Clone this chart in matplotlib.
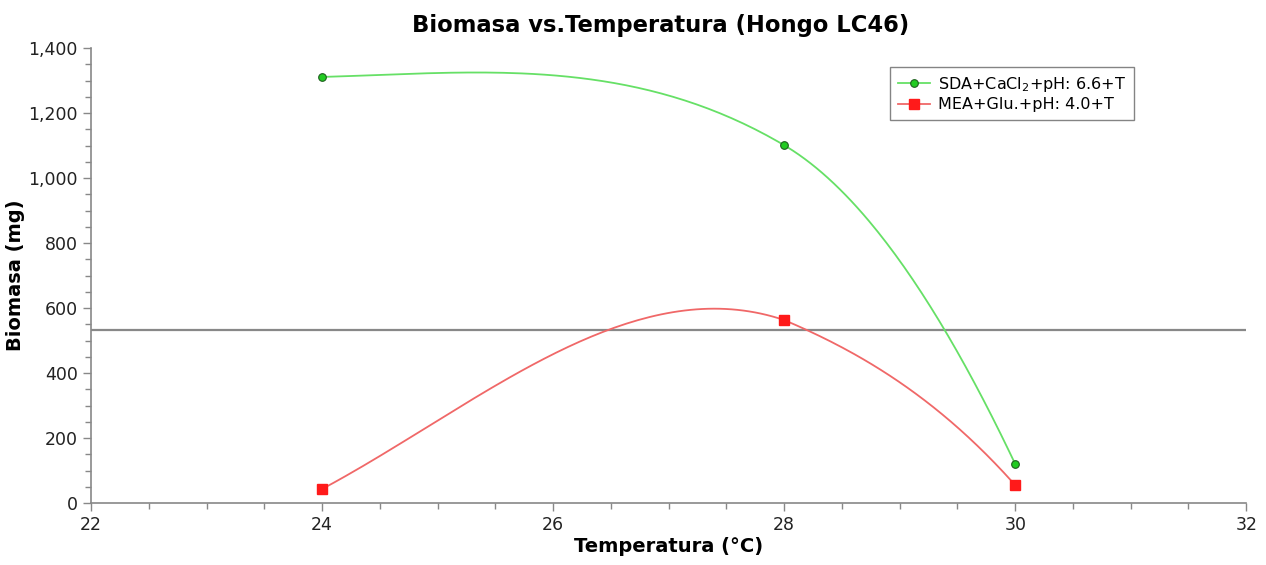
import numpy as np
import matplotlib
matplotlib.use('Agg')
import matplotlib.pyplot as plt
from matplotlib.ticker import MultipleLocator, FuncFormatter

# data
temperatura = [24, 28, 30]
biomasa_sda = [1311, 1101, 120]
biomasa_mea = [43, 563, 55]
# slopes (mg per °C) at the start and end of each segment, shaping the smooth curve
slopes_sda = [(10, -210), (-210, -750)]
slopes_mea = [(190, -120), (-150, -400)]
linea_ref = 532

labels = ['SDA+CaCl$_2$+pH: 6.6+T', 'MEA+Glu.+pH: 4.0+T']


def hermite_curve(x, y, m, n=80):
    """Piecewise cubic Hermite through the points."""
    xs, ys = [], []
    for i in range(len(x) - 1):
        h = x[i + 1] - x[i]
        t = np.linspace(0, 1, n)
        h00 = 2 * t**3 - 3 * t**2 + 1
        h10 = t**3 - 2 * t**2 + t
        h01 = -2 * t**3 + 3 * t**2
        h11 = t**3 - t**2
        xs.append(x[i] + h * t)
        ys.append(h00 * y[i] + h10 * h * m[i][0] + h01 * y[i + 1] + h11 * h * m[i][1])
    return np.concatenate(xs), np.concatenate(ys)


plt.rcParams['font.family'] = 'DejaVu Sans'

fig = plt.figure(figsize=(12.66, 5.65), dpi=100)
ax = fig.add_axes([0.0719, 0.1097, 0.9125, 0.8053])

# smooth lines
cx, cy = hermite_curve(temperatura, biomasa_sda, slopes_sda)
ax.plot(cx, cy, color='#66e066', lw=1.3, zorder=3)
cx, cy = hermite_curve(temperatura, biomasa_mea, slopes_mea)
ax.plot(cx, cy, color='#f06868', lw=1.3, zorder=3)

# markers
ax.plot(temperatura, biomasa_sda, 'o', color='#22cc22', mec='#1f5f1f',
        mew=0.8, ms=5.5, zorder=4)
ax.plot(temperatura, biomasa_mea, 's', color='#ff1a1a', mec='#ff1a1a',
        ms=6.5, zorder=4)

# legend handles
h1, = ax.plot([], [], '-o', color='#66e066', mfc='#22cc22', mec='#1f5f1f',
              mew=0.8, ms=5.5, lw=1.3, label=labels[0])
h2, = ax.plot([], [], '-s', color='#f06868', mfc='#ff1a1a', mec='#ff1a1a',
              ms=6.5, lw=1.3, label=labels[1])

ax.axhline(linea_ref, color='#888888', lw=1.6, zorder=2)

ax.set_xlim(22, 32)
ax.set_ylim(0, 1400)
ax.xaxis.set_major_locator(MultipleLocator(2))
ax.xaxis.set_minor_locator(MultipleLocator(0.5))
ax.yaxis.set_major_locator(MultipleLocator(200))
ax.yaxis.set_minor_locator(MultipleLocator(50))
ax.yaxis.set_major_formatter(FuncFormatter(lambda v, p: f'{int(v):,}'))

for s in ['top', 'right']:
    ax.spines[s].set_visible(False)
for s in ['left', 'bottom']:
    ax.spines[s].set_color('#888888')
    ax.spines[s].set_linewidth(1.2)

ax.tick_params(which='major', direction='out', length=6, width=1.0,
               color='#888888', labelsize=12.5, labelcolor='#222222')
ax.tick_params(which='minor', direction='out', length=4, width=1.0,
               color='#888888')

ax.set_xlabel('Temperatura (°C)', fontsize=14, fontweight='bold', labelpad=2)
ax.set_ylabel('Biomasa (mg)', fontsize=14, fontweight='bold')
ax.yaxis.set_label_coords(-0.057, 0.5)
fig.text(0.522, 0.955, 'Biomasa vs.Temperatura (Hongo LC46)', fontsize=16.3,
         fontweight='bold', ha='center', va='center')

leg = ax.legend(handles=[h1, h2], loc='upper left',
                bbox_to_anchor=(0.685, 0.976), fontsize=11.5, frameon=True,
                fancybox=False, handlelength=2.0, borderpad=0.5,
                labelspacing=0.2, handletextpad=0.5)
leg.get_frame().set_edgecolor('#666666')
leg.get_frame().set_linewidth(1.0)

plt.savefig('out.png', dpi=100, facecolor='white')
plt.close()
